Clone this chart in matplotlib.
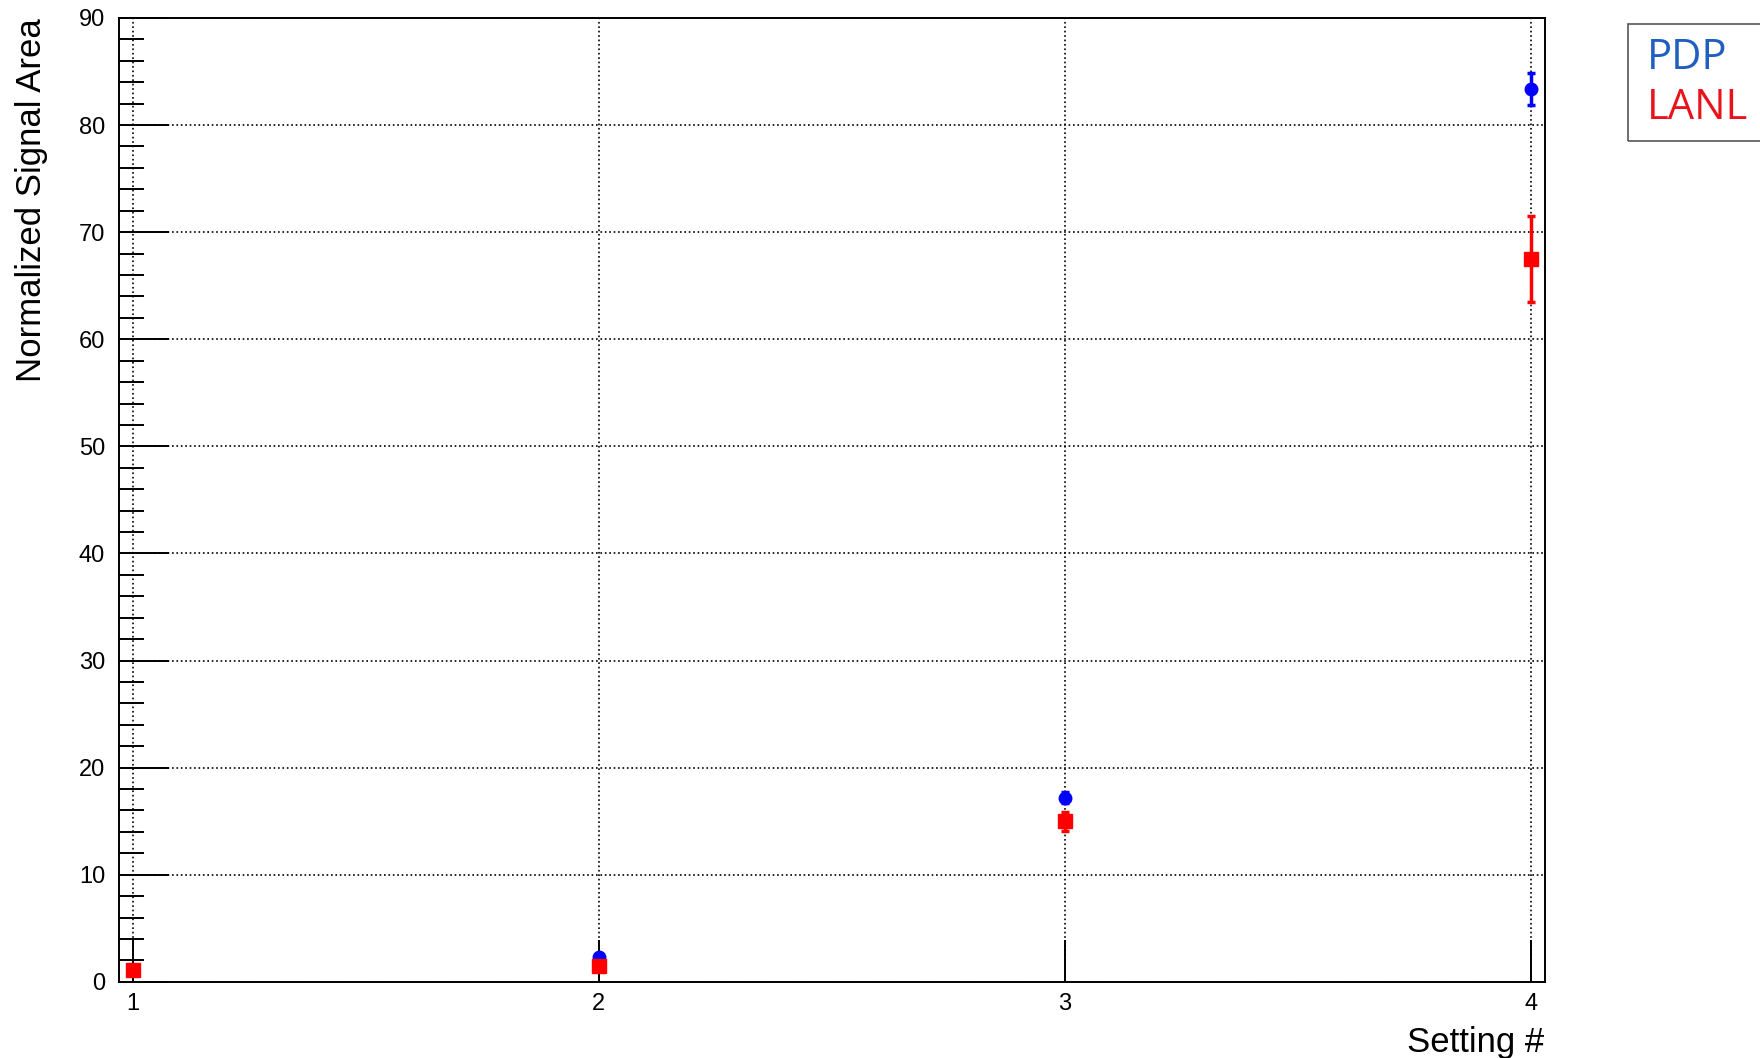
import matplotlib
matplotlib.use("Agg")
import matplotlib.pyplot as plt
from matplotlib.ticker import MultipleLocator
from matplotlib.patches import Rectangle

settings = [1, 2, 3, 4]
pdp_vals = [1.1, 2.3, 17.2, 83.4]
pdp_err = [0.3, 0.3, 0.5, 1.5]
lanl_vals = [1.1, 1.5, 15.0, 67.5]
lanl_err = [0.3, 0.3, 0.9, 4.0]

plt.rcParams['font.family'] = ['Liberation Sans', 'DejaVu Sans']
fig = plt.figure(figsize=(17.6, 10.58), dpi=100)
ax = fig.add_axes([0.0676, 0.072, 0.81, 0.911])

ax.errorbar(settings, pdp_vals, yerr=pdp_err, fmt='o', color='#0000ff', ms=9, elinewidth=2.5, capsize=3, capthick=2.5)
ax.errorbar(settings, lanl_vals, yerr=lanl_err, fmt='s', color='#ff0000', ms=10, elinewidth=2.5, capsize=3, capthick=2.5)

ax.set_xlim(0.97, 4.03)
ax.set_ylim(0, 90)
ax.xaxis.set_major_locator(MultipleLocator(1))
ax.yaxis.set_major_locator(MultipleLocator(10))
ax.yaxis.set_minor_locator(MultipleLocator(2))
ax.tick_params(axis='x', direction='in', length=30, width=1.4, labelsize=17, pad=8)
ax.tick_params(axis='y', which='major', direction='in', length=36, width=1.4, labelsize=17, pad=10)
ax.tick_params(axis='y', which='minor', direction='in', length=18, width=1.4)
ax.grid(True, which='major', color='black', linestyle=':', linewidth=1.2)
for s in ax.spines.values():
    s.set_linewidth(1.4)

ax.set_xlabel('Setting #', fontsize=25, loc='right', labelpad=8)
ax.set_ylabel('Normalized Signal Area', fontsize=25, loc='top', labelpad=22)

fig.patches.append(Rectangle((0.925, 0.867), 0.08, 0.11, transform=fig.transFigure, fill=False, edgecolor='#555555', linewidth=1.2))
fig.text(0.936, 0.945, 'PDP', color='#1f5fbf', fontsize=30, family=['Open Sans', 'DejaVu Sans'], va='center')
fig.text(0.936, 0.898, 'LANL', color='#e8131b', fontsize=30, family=['Open Sans', 'DejaVu Sans'], va='center')

fig.savefig('out.png', dpi=100)
